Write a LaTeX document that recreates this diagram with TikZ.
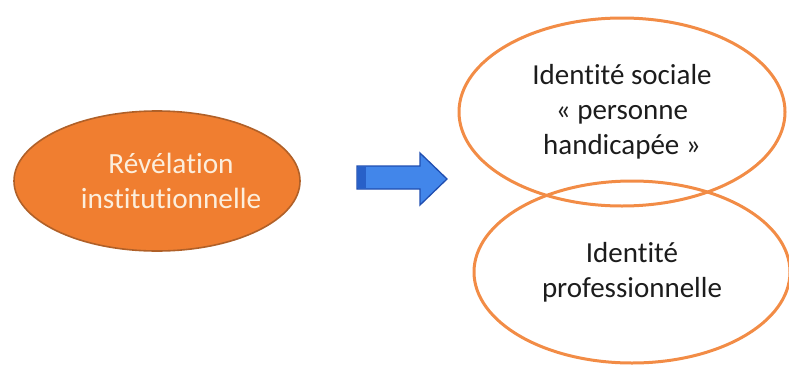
\documentclass[tikz,border=0pt]{standalone}
\usepackage{fontspec}
\setmainfont[RawFeature={-liga}]{Carlito}
\usetikzlibrary{shapes.geometric}
\definecolor{orfill}{RGB}{240,126,48}
\definecolor{ordark}{RGB}{176,96,40}
\definecolor{orline}{RGB}{242,140,70}
\definecolor{bluefill}{RGB}{66,134,234}
\definecolor{bluestrip}{RGB}{40,96,200}
\definecolor{bluedark}{RGB}{32,78,176}
\definecolor{txtlight}{RGB}{252,238,220}
\definecolor{txtdark}{RGB}{28,28,28}
\tikzset{
  revel/.style={ellipse, draw=ordark, fill=orfill, line width=1.6pt, inner sep=0pt,
    minimum width=286pt, minimum height=140pt},
  reveltext/.style={align=center, text=txtlight, inner sep=0pt,
    font=\fontsize{29.3}{35}\selectfont},
  ident/.style={ellipse, draw=orline, line width=3pt, inner sep=0pt, align=center,
    text=txtdark, font=\fontsize{29}{35}\selectfont},
  bigarrow/.style={draw=bluedark, fill=bluefill, line width=1.3pt, line join=miter}
}
\begin{document}
\begin{tikzpicture}[x=1pt,y=-1pt]
\useasboundingbox (0,0) rectangle (789,367);
\node[revel] (rev) at (157,181) {};
\node[reveltext] (revtxt) at (171,181) {Révélation\\institutionnelle};
\node[ident, minimum width=326pt, minimum height=188pt] (soc) at (622,112)
  {Identité sociale\\« personne\\handicapée »};
\node[ident, minimum width=316pt, minimum height=182pt] (pro) at (632,272)
  {Identité\\professionnelle};
\coordinate (arr) at (402,179);
\path[bigarrow] ([shift={(-45,-13)}]arr) -- ([shift={(18,-13)}]arr) -- ([shift={(18,-26)}]arr)
  -- ([shift={(45,0)}]arr) -- ([shift={(18,26)}]arr) -- ([shift={(18,10)}]arr)
  -- ([shift={(-45,10)}]arr) -- cycle;
\fill[bluestrip] ([shift={(-44.3,-12.3)}]arr) rectangle ([shift={(-36,9.3)}]arr);
\end{tikzpicture}
\end{document}
